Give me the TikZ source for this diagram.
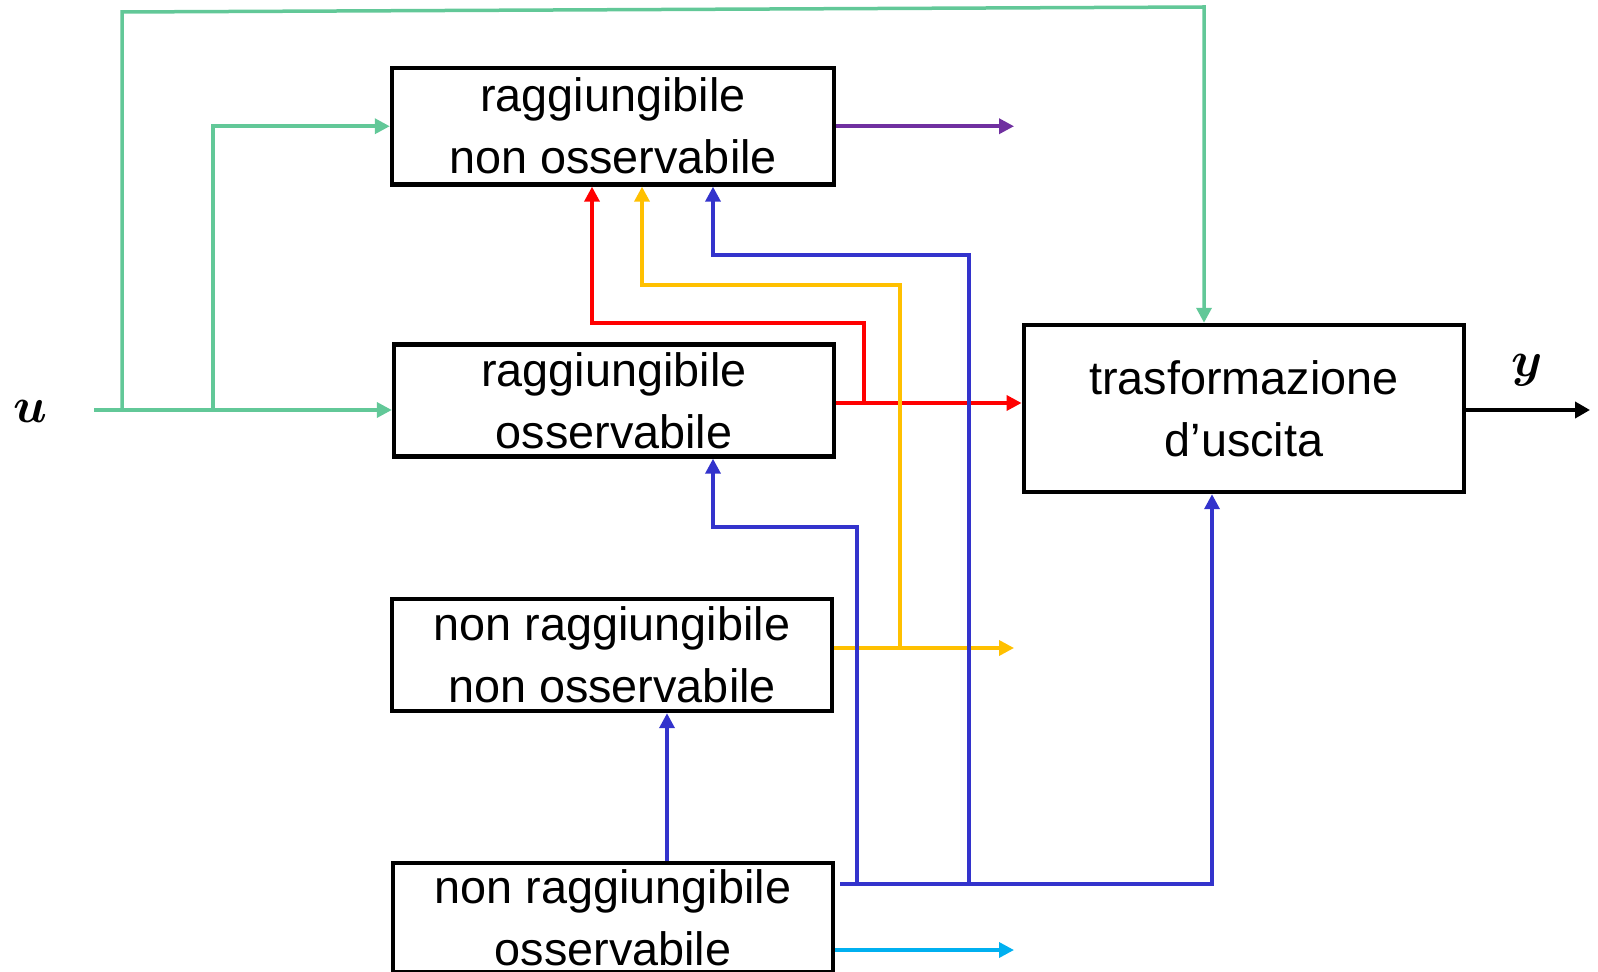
\documentclass[tikz,border=0pt]{standalone}
\usepackage{fontspec}
\setmainfont{Liberation Sans}
\usepackage{amsmath}
\usetikzlibrary{arrows.meta}
\definecolor{cgreen}{RGB}{98,200,152}
\definecolor{cpurple}{RGB}{112,48,160}
\definecolor{cred}{RGB}{255,0,0}
\definecolor{cyellow}{RGB}{255,192,0}
\definecolor{cblue}{RGB}{51,51,204}
\definecolor{ccyan}{RGB}{0,176,240}
\tikzset{
  blockbox/.style={draw=black, line width=2.2pt, inner sep=0pt, align=center,
    font=\fontsize{23.4}{31}\selectfont},
  conn/.style={line width=1.75pt, -{Triangle[length=7.5pt,width=7.5pt]}},
  lbl/.style={inner sep=0pt, font=\fontsize{30}{30}\selectfont},
}
\begin{document}
\begin{tikzpicture}[x=0.5pt,y=-0.5pt]
\useasboundingbox (0,0) rectangle (1598,972);
% blocks
\node[blockbox, minimum width=221pt, minimum height=58.25pt] (b1) at (613,126.25) {raggiungibile\\non osservabile};
\node[blockbox, minimum width=220pt, minimum height=56pt] (b2) at (614,400.5) {raggiungibile\\osservabile};
\node[blockbox, minimum width=220pt, minimum height=56pt] (b3) at (612,655) {non raggiungibile\\non osservabile};
\node[blockbox, minimum width=220pt, minimum height=54.5pt] (b4) at (613,917.5) {non raggiungibile\\osservabile};
\node[blockbox, minimum width=220.25pt, minimum height=83.5pt] (T) at (1244,408.5) {trasformazione\\d’uscita};
% labels
\node[lbl] (ul) at (30,411) {$\boldsymbol{u}$};
\node[lbl] (yl) at (1527,370) {$\boldsymbol{y}$};
% coordinates
\coordinate (in0) at (94,410);
\coordinate (j1) at (122,410);
\coordinate (j2) at (213,410);
\coordinate (tl) at (122,12);
\coordinate (tr) at (1204,7);
\coordinate (o1) at (1014,126.25);
\coordinate (r0) at (864,403);
\coordinate (rT) at (592,323);
\coordinate (y0) at (900,648);
\coordinate (yT) at (642,285);
\coordinate (o3) at (1014,648);
\coordinate (bs) at (840,884);
\coordinate (bb1) at (857,884);
\coordinate (bb2) at (969,884);
\coordinate (bR) at (1212,884);
\coordinate (bm) at (713,527);
\coordinate (bt) at (713,255);
\coordinate (c0) at (667,0);
\coordinate (o4) at (1014,950);
\coordinate (out) at (1590,410);
% green input
\draw[cgreen, conn] (in0) -- (in0 -| b2.west);
\draw[cgreen, conn] (j2) -- (j2 |- b1.west) -- (b1.west);
\draw[cgreen, conn] (j1) -- (tl) -- (tr) -- (tr |- T.north);
% purple
\draw[cpurple, conn] (b1.east) -- (o1);
% red
\draw[cred, conn] (r0 -| b2.east) -- (r0 -| T.west);
\draw[cred, conn] (r0) -- (r0 |- rT) -- (rT) -- (rT |- b1.south);
% yellow
\draw[cyellow, conn] (y0 -| b3.east) -- (o3);
\draw[cyellow, conn] (y0) -- (y0 |- yT) -- (yT) -- (yT |- b1.south);
% blue
\draw[cblue, conn] (bs) -- (bR) -- (bR |- T.south);
\draw[cblue, conn] (bb1) -- (bb1 |- bm) -- (bm) -- (bm |- b2.south);
\draw[cblue, conn] (bb2) -- (bb2 |- bt) -- (bt) -- (bt |- b1.south);
\draw[cblue, conn] (c0 |- b4.north) -- (c0 |- b3.south);
% cyan
\draw[ccyan, conn] (o4 -| b4.east) -- (o4);
% output
\draw[black, line width=2.2pt, -{Triangle[length=7.5pt,width=8pt]}] (out -| T.east) -- (out);
\end{tikzpicture}
\end{document}
